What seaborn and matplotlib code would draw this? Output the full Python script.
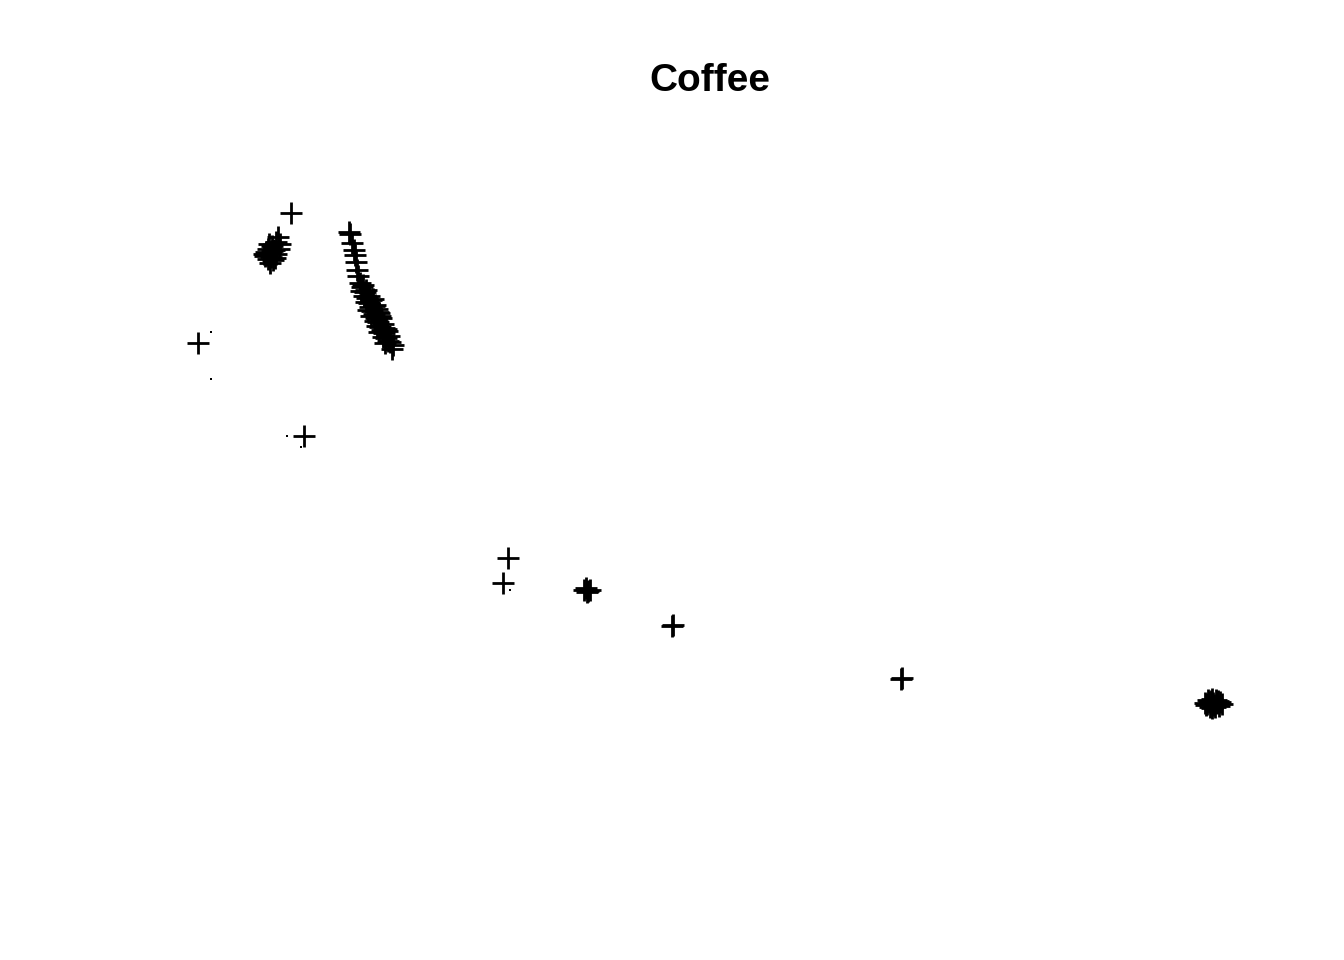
import matplotlib
matplotlib.use("Agg")
import matplotlib.pyplot as plt
import seaborn as sns
import pandas as pd

# coordenadas (x a la derecha, y hacia abajo)
cross_x = [291, 198, 304, 508, 503, 673, 672, 902, 901,
           584, 590, 587, 586, 588,
           # grupo A
           278, 276, 280, 272, 268, 274, 266, 270, 276, 265, 271, 268, 273, 270, 267, 279,
           269, 275, 264, 272,
           # grupo B
           349, 350, 352, 354, 355, 356, 357, 358,
           360, 362, 361, 365, 364, 367, 366, 369, 370, 368, 372, 374, 371, 376, 375, 378,
           377, 380, 382, 379, 384, 383, 386, 388, 385, 390, 393, 392, 375, 378, 381, 373, 384,
           363, 366, 371, 377, 380, 383, 387, 389, 369, 374, 379, 386,
           # grupo C
           1205, 1208, 1212, 1216, 1220, 1222, 1219, 1215, 1210, 1206, 1213, 1217, 1209, 1214,
           1211, 1218, 1207, 1212]
cross_y = [213, 343, 436, 558, 583, 625, 626, 678, 679,
           590, 590, 592, 588, 591,
           237, 242, 244, 246, 249, 250, 252, 253, 254, 256, 257, 259, 260, 263, 255, 249,
           244, 258, 254, 251,
           232, 234, 243, 250, 255, 262, 270, 276,
           283, 287, 291, 292, 296, 298, 302, 303, 307, 310, 311, 314, 316, 318, 321, 322,
           326, 327, 330, 332, 333, 337, 338, 341, 343, 342, 345, 349, 305, 312, 318, 299, 328,
           285, 290, 300, 309, 316, 324, 331, 336, 296, 306, 313, 329,
           703, 700, 699, 700, 702, 704, 706, 707, 707, 705, 703, 703, 702, 705,
           701, 701, 704, 708]

dot_x = [211, 211, 287, 301, 510]
dot_y = [332, 379, 436, 447, 590]

crosses = pd.DataFrame({'x': cross_x, 'y': cross_y})
dots = pd.DataFrame({'x': dot_x, 'y': dot_y})

sns.set_style("white")
plt.rcParams['font.family'] = ['Liberation Sans', 'DejaVu Sans']

fig = plt.figure(figsize=(13.44, 9.6), dpi=100)
ax = fig.add_axes([0, 0, 1, 1])
sns.scatterplot(data=crosses, x='x', y='y', marker='+', s=230, color='black',
                linewidth=2.0, ax=ax)
sns.scatterplot(data=dots, x='x', y='y', marker='s', s=3, color='black',
                linewidth=0, ax=ax)
ax.set_xlim(0, 1344)
ax.set_ylim(960, 0)
ax.axis('off')
ax.text(710, 81, 'Coffee', ha='center', va='center', fontsize=28,
        fontweight='bold', color='black')

fig.savefig('out.png', dpi=100, facecolor='white')
